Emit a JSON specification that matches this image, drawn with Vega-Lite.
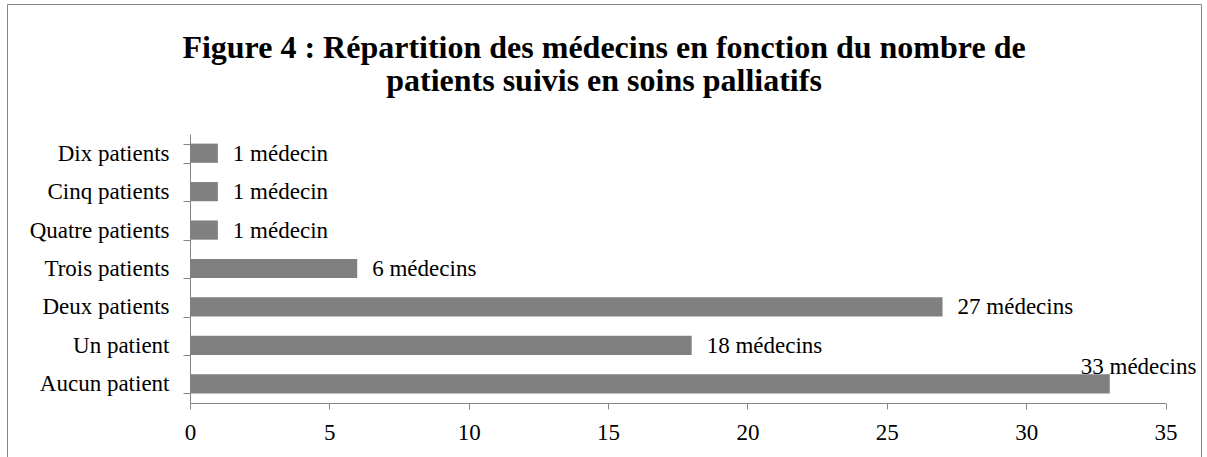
{
  "$schema": "https://vega.github.io/schema/vega-lite/v6.json",
  "autosize": "none",
  "width": 1194,
  "height": 453,
  "padding": {"left": 7, "top": 4, "right": 6, "bottom": 0},
  "background": "white",
  "config": {
    "view": {"stroke": "#868686", "strokeWidth": 1},
    "font": "Liberation Serif"
  },
  "title": {
    "text": ["Figure 4 : Répartition des médecins en fonction du nombre de", "patients suivis en soins palliatifs"],
    "frame": "group",
    "anchor": "middle",
    "font": "Liberation Serif",
    "fontSize": 32,
    "fontWeight": "bold",
    "color": "black",
    "lineHeight": 33,
    "baseline": "alphabetic",
    "offset": -130
  },
  "data": {
    "values": [
      {"categorie": "Dix patients", "medecins": 1, "etiquette": "1 médecin"},
      {"categorie": "Cinq patients", "medecins": 1, "etiquette": "1 médecin"},
      {"categorie": "Quatre patients", "medecins": 1, "etiquette": "1 médecin"},
      {"categorie": "Trois patients", "medecins": 6, "etiquette": "6 médecins"},
      {"categorie": "Deux patients", "medecins": 27, "etiquette": "27 médecins"},
      {"categorie": "Un patient", "medecins": 18, "etiquette": "18 médecins"},
      {"categorie": "Aucun patient", "medecins": 33, "etiquette": "33 médecins"}
    ]
  },
  "encoding": {
    "y": {
      "field": "categorie",
      "type": "nominal",
      "sort": ["Dix patients", "Cinq patients", "Quatre patients", "Trois patients", "Deux patients", "Un patient", "Aucun patient"],
      "scale": {"range": [130, 399], "paddingInner": 0.5, "paddingOuter": 0.25},
      "axis": {
        "title": null,
        "orient": "left",
        "offset": -183,
        "domainColor": "#868686",
        "tickColor": "#868686",
        "tickSize": 7,
        "tickBand": "extent",
        "labelFont": "Liberation Serif",
        "labelFontSize": 23,
        "labelColor": "black",
        "labelPadding": 14,
        "labelLimit": 300
      }
    },
    "x": {
      "field": "medecins",
      "type": "quantitative",
      "scale": {"domain": [0, 35], "range": [183, 1158.5], "nice": false},
      "axis": {
        "title": null,
        "values": [0, 5, 10, 15, 20, 25, 30, 35],
        "offset": -54,
        "grid": false,
        "domainColor": "#868686",
        "tickColor": "#868686",
        "tickSize": 6,
        "labelFont": "Liberation Serif",
        "labelFontSize": 23,
        "labelColor": "black",
        "labelPadding": 12,
        "labelFlush": false,
        "labelOverlap": false
      }
    }
  },
  "layer": [
    {"mark": {"type": "bar", "color": "#808080"}},
    {
      "transform": [{"filter": "datum.categorie !== 'Aucun patient'"}],
      "mark": {"type": "text", "align": "left", "baseline": "alphabetic", "dx": 15, "dy": 7.5, "font": "Liberation Serif", "fontSize": 23, "color": "black"},
      "encoding": {"text": {"field": "etiquette"}}
    },
    {
      "transform": [{"filter": "datum.categorie === 'Aucun patient'"}],
      "mark": {"type": "text", "align": "left", "baseline": "alphabetic", "dx": -29, "dy": -10, "font": "Liberation Serif", "fontSize": 23, "color": "black"},
      "encoding": {"text": {"field": "etiquette"}}
    }
  ]
}
